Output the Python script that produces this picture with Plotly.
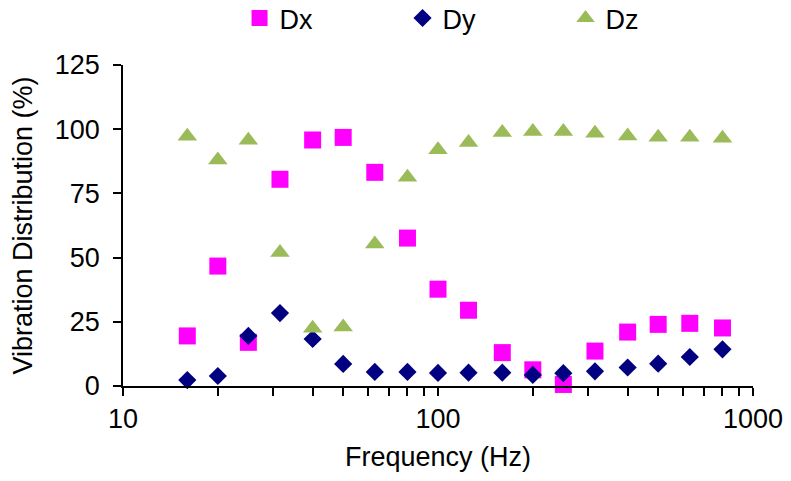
import plotly.graph_objects as go

freq = [16, 20, 25, 31.5, 40, 50, 63, 80, 100, 125, 160, 200, 250, 315, 400, 500, 630, 800]
dx = [19.5, 46.7, 17.0, 80.5, 95.8, 96.8, 83.2, 57.6, 37.7, 29.5, 13.0, 6.3, 0.6, 13.6, 21.0, 24.0, 24.4, 22.6]
dy = [2.3, 3.9, 19.5, 28.4, 18.3, 8.6, 5.5, 5.5, 5.1, 5.2, 5.2, 4.3, 5.0, 5.7, 7.2, 8.7, 11.3, 14.3]
dz = [97.3, 88.0, 95.7, 52.0, 22.5, 23.0, 55.3, 81.3, 92.0, 94.8, 98.7, 99.1, 99.1, 98.4, 97.4, 96.9, 96.9, 96.5]

x_tick_vals = [10, 20, 30, 40, 50, 60, 70, 80, 90, 100, 200, 300, 400, 500, 600, 700, 800, 900, 1000]
x_tick_text = ["10", "", "", "", "", "", "", "", "", "100", "", "", "", "", "", "", "", "", "1000"]
y_tick_vals = [0, 25, 50, 75, 100, 125]

FONT = "Arial, Liberation Sans, sans-serif"
FS = 27

fig = go.Figure()
fig.add_trace(go.Scatter(x=freq, y=dx, mode="markers", name="Dx", cliponaxis=False,
                         marker=dict(symbol="square", size=17, color="#FF00FF")))
fig.add_trace(go.Scatter(x=freq, y=dy, mode="markers", name="Dy", cliponaxis=False,
                         marker=dict(symbol="diamond", size=14, color="#000080")))
fig.add_trace(go.Scatter(x=freq, y=dz, mode="markers", name="Dz", cliponaxis=False,
                         marker=dict(symbol="triangle-up", size=17, color="#9BBB59")))

fig.update_layout(
    width=791, height=481,
    margin=dict(l=123, r=38, t=65, b=95, autoexpand=False),
    paper_bgcolor="white", plot_bgcolor="white",
    font=dict(family=FONT, size=FS, color="#000000"),
    showlegend=True,
    legend=dict(orientation="h", x=0.185, y=1.145, xanchor="left", yanchor="middle",
                entrywidth=118, entrywidthmode="pixels",
                font=dict(size=FS), itemsizing="trace", bgcolor="rgba(0,0,0,0)",
                tracegroupgap=0, itemwidth=30),
    xaxis=dict(type="log", range=[1, 3], tickvals=x_tick_vals, ticktext=x_tick_text,
               ticks="outside", ticklen=8, tickwidth=1.5, tickcolor="black",
               showline=True, linecolor="black", linewidth=1.5, showgrid=False,
               zeroline=False, tickfont=dict(size=FS), mirror=False,
               title=dict(text="Frequency (Hz)", font=dict(size=FS), standoff=14)),
    yaxis=dict(range=[0, 125], tickvals=y_tick_vals,
               ticks="outside", ticklen=8, tickwidth=1.5, tickcolor="black",
               showline=True, linecolor="black", linewidth=1.5, showgrid=False,
               zeroline=False, tickfont=dict(size=FS), ticklabelstandoff=8,
               title=dict(text="Vibration Distribution (%)", font=dict(size=FS), standoff=14)),
)

fig.write_html("out.html")
